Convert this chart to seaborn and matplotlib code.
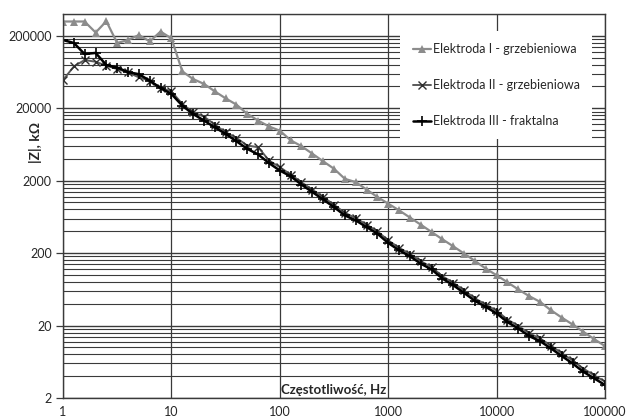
import numpy as np
import pandas as pd
import matplotlib
matplotlib.use('Agg')
import matplotlib.pyplot as plt
import matplotlib.ticker as mticker
import seaborn as sns

FREQ = [1, 1.26, 1.58, 2, 2.51, 3.16, 3.98, 5.01, 6.31, 7.94,
        10, 12.6, 15.8, 20, 25.1, 31.6, 39.8, 50.1, 63.1, 79.4,
        100, 126, 158, 200, 251, 316, 398, 501, 631, 794,
        1000, 1259, 1585, 1995, 2512, 3162, 3981, 5012, 6310, 7943,
        10000, 12589, 15849, 19953, 25119, 31623, 39811, 50119, 63096, 79433,
        100000]

Z_EL1 = [315000, 315000, 315000, 222000, 318000, 159000, 175000, 205000, 167000, 229000,
         184000, 64500, 50700, 43300, 34200, 27400, 22400, 16700, 13500, 11200,
         9800, 7200, 6000, 4700, 3700, 2920, 2120, 1910, 1510, 1190,
         962, 778, 620, 494, 391, 310, 248, 197, 156, 122,
         99, 79, 63, 51, 42.5, 32.6, 25.8, 20.7, 16.4, 13.0,
         10.4]

Z_EL2 = [49000, 75500, 92500, 87700, 77300, 69500, 62500, 53300, 48000, 38000,
         34200, 22900, 17600, 15300, 11900, 9300, 7800, 6100, 5800, 3800,
         3070, 2430, 1900, 1500, 1190, 930, 720, 610, 495, 400,
         300, 237, 195, 155, 128, 96, 78, 61, 47.5, 39,
         32, 24.2, 19.8, 15.6, 13.3, 10.6, 8.3, 6.6, 5.1, 4.1,
         3.36]

Z_EL3 = [175000, 159000, 112000, 116000, 79000, 73000, 63000, 59000, 48000, 38000,
         31500, 21700, 16700, 13500, 10900, 8850, 7000, 5500, 4600, 3500,
         2760, 2300, 1770, 1390, 1100, 863, 663, 566, 458, 371,
         276, 219, 181, 143, 119, 89, 72, 56.4, 43.8, 36.2,
         29.4, 22.3, 18.2, 14.3, 12.2, 9.7, 7.6, 6.0, 4.6, 3.73,
         3.02]

LABELS = ['Elektroda I - grzebieniowa', 'Elektroda II - grzebieniowa',
          'Elektroda III - fraktalna']
X_TICKS = [1, 10, 100, 1000, 10000, 100000]
Y_TICKS = [2, 20, 200, 2000, 20000, 200000]

sns.set_style('white')
plt.rcParams['font.family'] = ['Lato', 'DejaVu Sans']

fig = plt.figure(figsize=(6.27, 4.2), dpi=100)
ax = fig.add_axes([0.1005, 0.0524, 0.8645, 0.9143])

df = pd.DataFrame({'f': FREQ, 'z1': Z_EL1, 'z2': Z_EL2, 'z3': Z_EL3})

ax.set_xscale('log')
ax.set_yscale('log')

# gridlines: decades on x, 2*10^n plus multiples of 2 on y
for xv in X_TICKS:
    ax.axvline(xv, color='#3a3a3a', lw=0.9, zorder=0)
for dec in Y_TICKS:
    for m in range(1, 10):
        yv = dec * m
        if yv <= 400000:
            ax.axhline(yv, color='#3a3a3a', lw=0.8 if m > 1 else 1.0, zorder=0)

sns.lineplot(data=df, x='f', y='z1', ax=ax, color='#8c8c8c', lw=1.6,
             marker='^', markersize=6, markeredgewidth=0, label=LABELS[0])
sns.lineplot(data=df, x='f', y='z2', ax=ax, color='#5a5a5a', lw=1.4,
             marker='x', markersize=6, markeredgewidth=1.0,
             markeredgecolor='#303030', label=LABELS[1])
sns.lineplot(data=df, x='f', y='z3', ax=ax, color='black', lw=1.8,
             marker='+', markersize=7, markeredgewidth=1.2,
             markeredgecolor='black', label=LABELS[2])

ax.set_xlim(1, 100000)
ax.set_ylim(2, 400000)
ax.set_xticks(X_TICKS)
ax.set_yticks(Y_TICKS)
ax.xaxis.set_major_formatter(mticker.FuncFormatter(lambda v, p: str(int(round(v)))))
ax.yaxis.set_major_formatter(mticker.FuncFormatter(lambda v, p: str(int(round(v)))))
ax.xaxis.set_minor_locator(mticker.NullLocator())
ax.yaxis.set_minor_locator(mticker.NullLocator())
ax.tick_params(axis='y', length=5, width=0.9, color='#3a3a3a', labelsize=9, pad=3, left=True)
ax.tick_params(axis='x', length=0, labelsize=9, pad=6)

for s in ax.spines.values():
    s.set_color('#3a3a3a')
    s.set_linewidth(1.0)

ax.set_xlabel('Częstotliwość, Hz', fontsize=9.5, fontweight='bold')
ax.xaxis.set_label_coords(0.5, 0.036)
ax.set_ylabel('|Z|, kΩ', fontsize=10, fontweight='bold')
ax.yaxis.set_label_coords(-0.039, 0.665)

leg = ax.legend(loc='upper left', bbox_to_anchor=(0.622, 0.956), frameon=True,
                fancybox=False, framealpha=1, edgecolor='none', facecolor='white',
                fontsize=9, handlelength=1.5, handletextpad=0.1,
                labelspacing=1.9, borderpad=1.0, borderaxespad=0)

fig.savefig('out.png', dpi=100)
